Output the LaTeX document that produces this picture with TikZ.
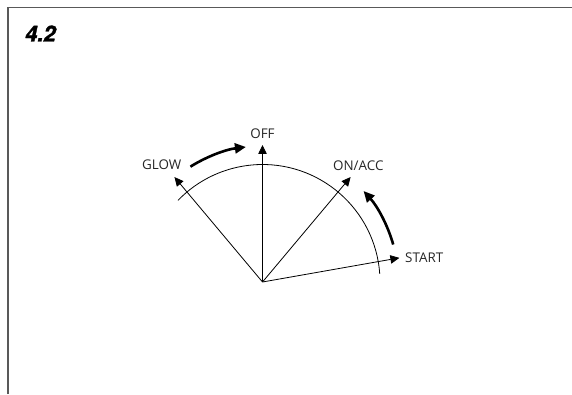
\documentclass[tikz,border=0pt]{standalone}
\usepackage{fontspec}
\setmainfont{Open Sans}
\newfontfamily\numfont[BoldItalicFeatures={FakeBold=1.6}]{TeX Gyre Heros}
\usetikzlibrary{arrows.meta}

\begin{document}
\begin{tikzpicture}[x=1pt,y=1pt,
  keypos/.style={font=\fontsize{13.4}{15}\selectfont,inner sep=0pt,text=black!85},
  radial/.style={-{Triangle[length=9pt,width=8.5pt]},line width=0.8pt},
  turn/.style={-{Triangle[length=11pt,width=10pt]},line width=2.6pt},
  frame/.style={draw=black!65,line width=1.3pt}
]
\useasboundingbox (0,0) rectangle (572,394);
\draw[frame] (8,0) -- (8,386.5) -- (572,386.5);
\node[font=\numfont\bfseries\itshape\fontsize{22}{24}\selectfont,
      anchor=west,inner sep=0pt] (title) at (25,360.5) {4.2};

\coordinate (hub) at (262.5,112);
\coordinate (glowtip) at ([shift={(130:137)}]hub);
\coordinate (offtip) at ([shift={(90:137)}]hub);
\coordinate (ontip) at ([shift={(50:137)}]hub);
\coordinate (starttip) at ([shift={(10:139)}]hub);

\node[keypos] (glow) at (161.7,229) {GLOW};
\node[keypos] (off) at (262.5,260.7) {OFF};
\node[keypos] (onacc) at (358.3,228.3) {ON/ACC};
\node[keypos,anchor=west] (start) at (405,136.3) {START};

\draw[line width=0.8pt] ([shift={(4:117.5)}]hub)
  arc[start angle=4,end angle=136,radius=117.5];
\draw[radial] (hub) -- (glowtip);
\draw[radial] (hub) -- (offtip);
\draw[radial] (hub) -- (ontip);
\draw[radial] (hub) -- (starttip);

\draw[turn] ([shift={(122:136)}]hub) arc[start angle=122,end angle=97,radius=136];
\draw[turn] ([shift={(16:136)}]hub) arc[start angle=16,end angle=42,radius=136];
\end{tikzpicture}
\end{document}
